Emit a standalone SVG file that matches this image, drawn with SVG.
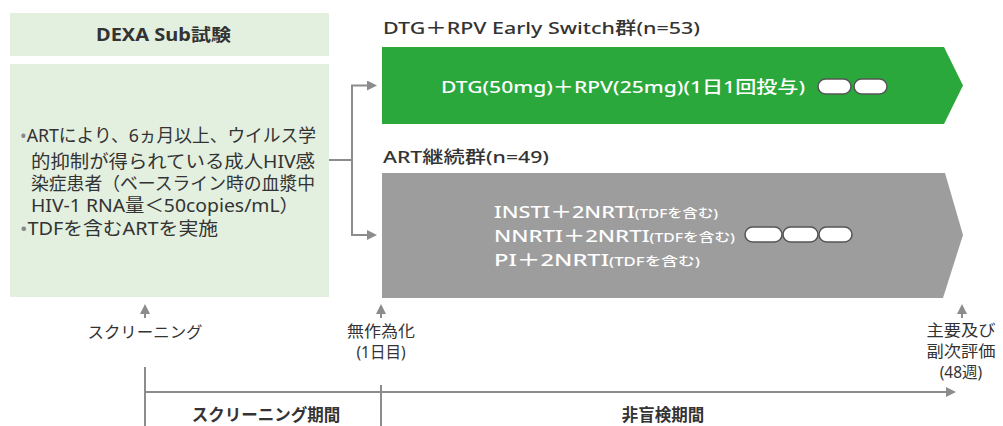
<svg xmlns="http://www.w3.org/2000/svg" width="1003" height="426" viewBox="0 0 1003 426">
<style>
text{font-family:"Noto Sans","Noto Sans CJK JP",sans-serif;fill:#333;font-weight:normal}
.m{font-weight:500}
.b{font-weight:bold}
.w{fill:#fff}
.conn{stroke:#8c8c8c;stroke-width:2;fill:none}
.pill{fill:#fff;stroke:#555;stroke-width:1.5}
.lbl{font-size:15.5px;text-anchor:middle}
</style>
<defs>
<marker id="ah" markerWidth="10" markerHeight="10" refX="7" refY="5" orient="auto" markerUnits="userSpaceOnUse">
<path d="M0,0 L10,5 L0,10 z" fill="#8c8c8c"/>
</marker>
</defs>
<g id="header">
<rect x="10" y="13" width="319" height="43" fill="#e3efdf"/>
<text x="96" y="41" class="b" font-size="17" textLength="135" lengthAdjust="spacingAndGlyphs">DEXA Sub試験</text>
</g>
<g id="criteria">
<rect x="10" y="64" width="319" height="233" fill="#e3efdf"/>
<g font-size="18">
<text x="20" y="142" textLength="296" lengthAdjust="spacingAndGlyphs"><tspan fill="#888">•</tspan>ARTにより、6ヵ月以上、ウイルス学</text>
<text x="31" y="168" textLength="284" lengthAdjust="spacingAndGlyphs">的抑制が得られている成人HIV感</text>
<text x="31" y="190" textLength="284" lengthAdjust="spacingAndGlyphs">染症患者（ベースライン時の血漿中</text>
<text x="31" y="212" textLength="268" lengthAdjust="spacingAndGlyphs">HIV-1 RNA量＜50copies/mL）</text>
<text x="20" y="235" textLength="198" lengthAdjust="spacingAndGlyphs"><tspan fill="#888">•</tspan>TDFを含むARTを実施</text>
</g>
</g>
<g id="dtg-group">
<text x="383" y="34" font-size="17" class="m" textLength="317" lengthAdjust="spacingAndGlyphs">DTG＋RPV Early Switch群(n=53)</text>
<path d="M382,47 H944 L963,85.5 L944,124 H382 z" fill="#2aa83b"/>
<text x="441" y="93" font-size="17" class="w m" textLength="364" lengthAdjust="spacingAndGlyphs">DTG(50mg)＋RPV(25mg)(1日1回投与)</text>
<rect class="pill" x="818" y="79" width="33" height="15" rx="7.5"/>
<rect class="pill" x="854" y="79" width="33" height="15" rx="7.5"/>
</g>
<g id="art-group">
<text x="383" y="163" font-size="17" class="m" textLength="166" lengthAdjust="spacingAndGlyphs">ART継続群(n=49)</text>
<path d="M382,173 H945 L963,235 L943,298 H382 z" fill="#9d9d9d"/>
<text x="494" y="218" font-size="17" class="w m" textLength="224" lengthAdjust="spacingAndGlyphs">INSTI＋2NRTI<tspan font-size="12">(TDFを含む)</tspan></text>
<text x="494" y="242" font-size="17" class="w m" textLength="241" lengthAdjust="spacingAndGlyphs">NNRTI＋2NRTI<tspan font-size="12">(TDFを含む)</tspan></text>
<text x="494" y="266" font-size="17" class="w m" textLength="206" lengthAdjust="spacingAndGlyphs">PI＋2NRTI<tspan font-size="12">(TDFを含む)</tspan></text>
<rect class="pill" x="745" y="227" width="37" height="15" rx="7.5"/>
<rect class="pill" x="783" y="227" width="35" height="15" rx="7.5"/>
<rect class="pill" x="819" y="227" width="33" height="15" rx="7.5"/>
</g>
<g id="connectors">
<path class="conn" d="M329,160 H352 V85.5 H374" marker-end="url(#ah)"/>
<path class="conn" d="M352,160 V235 H374" marker-end="url(#ah)"/>
<path class="conn" d="M145,318 V307" marker-end="url(#ah)"/>
<path class="conn" d="M381,318 V307" marker-end="url(#ah)"/>
<path class="conn" d="M962,318 V307" marker-end="url(#ah)"/>
<path class="conn" d="M145,392 H953" marker-end="url(#ah)"/>
<path class="conn" d="M145,367 V426"/>
<path class="conn" d="M381,385 V426"/>
</g>
<g id="screening-label"><text x="145" y="338" class="lbl" textLength="115" lengthAdjust="spacingAndGlyphs">スクリーニング</text></g>
<g id="randomization-label">
<text x="381" y="337" class="lbl" textLength="68" lengthAdjust="spacingAndGlyphs">無作為化</text>
<text x="381" y="358" class="lbl">(1日目)</text>
</g>
<g id="evaluation-label">
<text x="961" y="336" class="lbl" textLength="69" lengthAdjust="spacingAndGlyphs">主要及び</text>
<text x="961" y="357" class="lbl" textLength="69" lengthAdjust="spacingAndGlyphs">副次評価</text>
<text x="961" y="378" class="lbl">(48週)</text>
</g>
<g id="period-labels">
<text x="266" y="421" class="lbl b" font-size="16.5" style="font-weight:bold;font-size:16.5px">スクリーニング期間</text>
<text x="663" y="421" class="lbl b" style="font-weight:bold;font-size:16.5px">非盲検期間</text>
</g>
</svg>
